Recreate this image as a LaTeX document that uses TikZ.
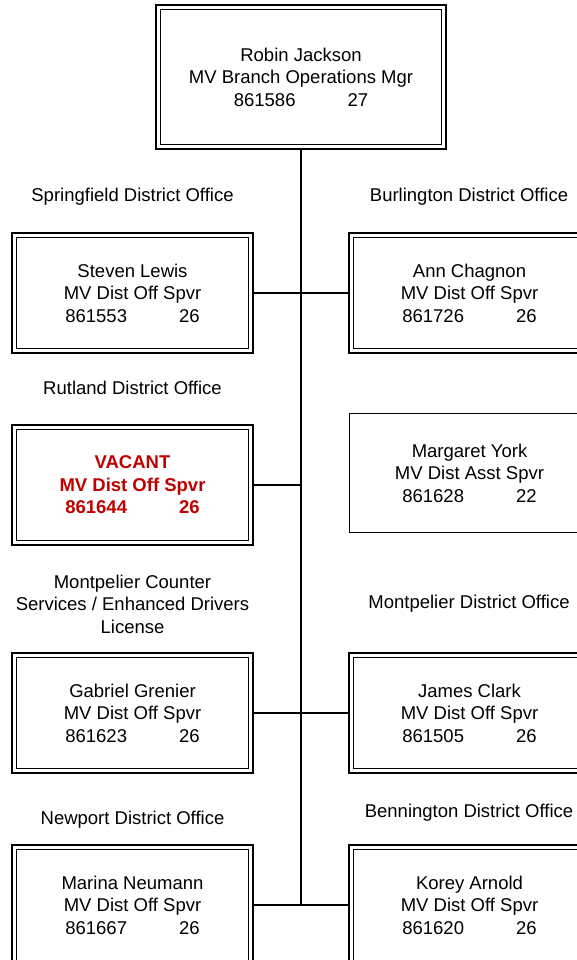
\documentclass[tikz,border=0pt]{standalone}
\usepackage{fontspec}
\setmainfont{Liberation Sans}
\usetikzlibrary{calc}
\definecolor{vacred}{RGB}{192,0,0}
\def\idgrade#1#2{#1\hspace{52pt}#2}
\tikzset{
  boxfont/.style={font=\fontsize{18.5pt}{22.5pt}\selectfont},
  posbox/.style={draw, line width=1.8pt, double, double distance=2.6pt, outer sep=3.1pt,
    minimum width=236.4pt, minimum height=115.4pt, inner sep=0pt, align=center, boxfont},
  vacantbox/.style={posbox, text=vacred, font=\fontsize{18.5pt}{22.5pt}\selectfont\bfseries},
  topbox/.style={posbox, minimum width=285.4pt, minimum height=139.4pt},
  asstbox/.style={draw, line width=1.6pt, outer sep=0.8pt, minimum width=240pt,
    minimum height=119pt, inner sep=0pt, align=center, boxfont},
  office/.style={align=center, inner sep=0pt, boxfont},
  link/.style={line width=1.8pt}
}
\begin{document}
\begin{tikzpicture}[x=1pt, y=-1pt]
		%%%%% START %%%%%
		\useasboundingbox (0,0) rectangle (576,960);
		
		\node[topbox] (jackson) at (301,77) {Robin Jackson\\MV Branch Operations Mgr\\\idgrade{861586}{27}};
		
		\node[office] (springfield) at (132.5,197) {Springfield District Office};
		\node[office] (burlington) at (469,197) {Burlington District Office};
		\node[posbox] (lewis) at (132.5,293) {Steven Lewis\\MV Dist Off Spvr\\\idgrade{861553}{26}};
		\node[posbox] (chagnon) at (469.5,293) {Ann Chagnon\\MV Dist Off Spvr\\\idgrade{861726}{26}};
		
		\node[office] (rutland) at (132.5,388) {Rutland District Office};
		\node[vacantbox] (vacant) at (132.5,485) {VACANT\\MV Dist Off Spvr\\\idgrade{861644}{26}};
		\node[asstbox] (york) at (469.5,473) {Margaret York\\MV Dist Asst Spvr\\\idgrade{861628}{22}};
		
		\node[office] (counter) at (132.5,604) {Montpelier Counter\\Services / Enhanced Drivers\\License};
		\node[office] (montpelier) at (469,604) {Montpelier District Office};
		\node[posbox] (grenier) at (132.5,713) {Gabriel Grenier\\MV Dist Off Spvr\\\idgrade{861623}{26}};
		\node[posbox] (clark) at (469.5,713) {James Clark\\MV Dist Off Spvr\\\idgrade{861505}{26}};
		
		\node[office] (newport) at (132.5,820) {Newport District Office};
		\node[office] (bennington) at (469,813) {Bennington District Office};
		\node[posbox] (neumann) at (132.5,905) {Marina Neumann\\MV Dist Off Spvr\\\idgrade{861667}{26}};
		\node[posbox] (arnold) at (469.5,905) {Korey Arnold\\MV Dist Off Spvr\\\idgrade{861620}{26}};
		
		\coordinate (trunkend) at (jackson.south |- neumann.east);
		\coordinate (vacjoin) at (jackson.south |- vacant.east);
		\draw[link] (jackson.south) -- (trunkend);
		\draw[link] (lewis.east) -- (chagnon.west);
		\draw[link] (vacant.east) -- (vacjoin);
		\draw[link] (grenier.east) -- (clark.west);
		\draw[link] (neumann.east) -- (arnold.west);
		
		%%%%% END %%%%%
\end{tikzpicture}
\end{document}
